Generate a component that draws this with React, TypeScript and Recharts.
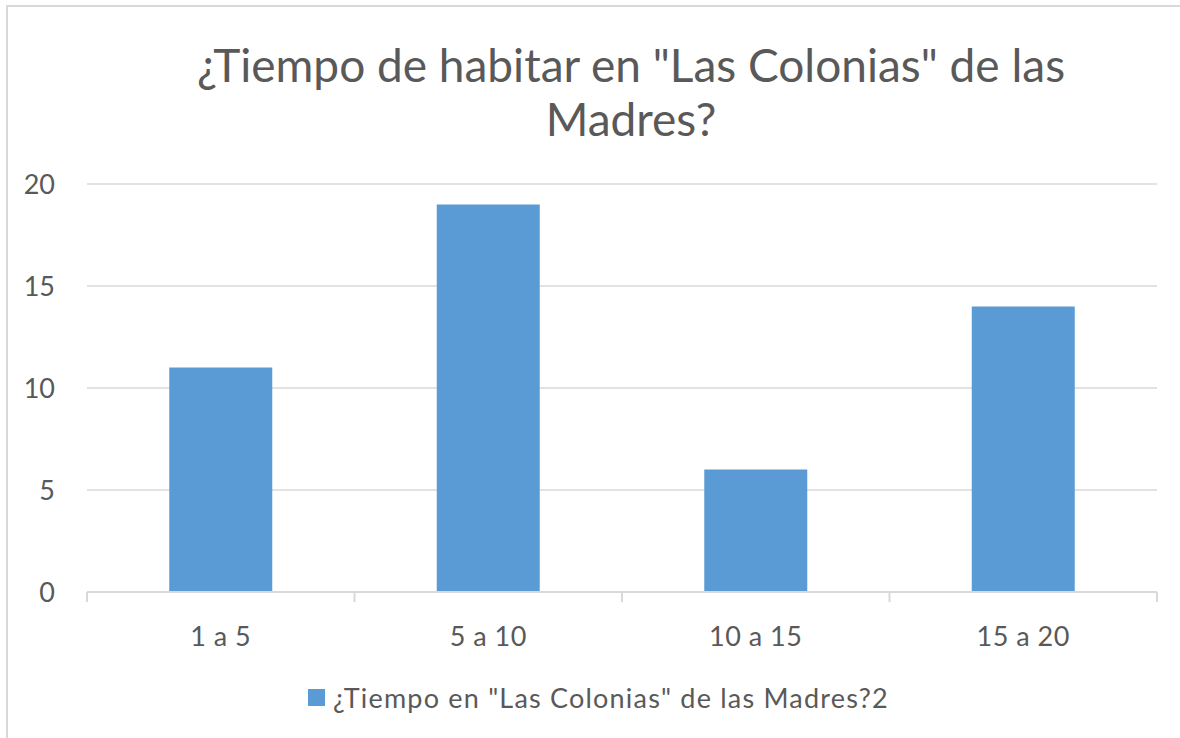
import { BarChart, Bar, XAxis, YAxis, CartesianGrid } from 'recharts';

// Data
const categories = ['1 a 5', '5 a 10', '10 a 15', '15 a 20'];
const seriesValues = [11, 19, 6, 14];
const yTicks = [0, 5, 10, 15, 20];

const seriesName = '¿Tiempo en "Las Colonias" de las Madres?2';
const titleLines = ['¿Tiempo de habitar en "Las Colonias" de las', 'Madres?'];

const data = categories.map((name, i) => ({ name, value: seriesValues[i] }));

const FONT = 'Lato, "Liberation Sans", sans-serif';
const TEXT = '#595959';
const GRID = '#d9d9d9';
const BAR = '#5b9bd5';

// Category label plus Excel-style tick marks on the band boundaries
const CategoryTick = ({ x, y, payload, index }: any) => {
  const half = payload.offset || 0;
  const axisY = y - 30;
  return (
    <g>
      {index === 0 && (
        <line x1={x - half} x2={x - half} y1={axisY} y2={axisY + 10} stroke={GRID} strokeWidth={2} />
      )}
      <line x1={x + half} x2={x + half} y1={axisY} y2={axisY + 10} stroke={GRID} strokeWidth={2} />
      <text
        x={x}
        y={y + 5}
        dy="0.71em"
        textAnchor="middle"
        fill={TEXT}
        fontSize={27}
        fontFamily={FONT}
        letterSpacing={0.5}
      >
        {payload.value}
      </text>
    </g>
  );
};

export default function App() {
  return (
    <div
      style={{
        position: 'fixed',
        left: 0,
        top: 0,
        width: 1180,
        height: 738,
        background: '#fff',
        fontFamily: FONT,
      }}
    >
      {/* chart frame, cropped on right and bottom */}
      <div
        style={{
          position: 'absolute',
          left: 6,
          top: 5,
          width: 1180,
          height: 740,
          borderLeft: `2px solid ${GRID}`,
          borderTop: `2px solid ${GRID}`,
        }}
      />
      <div
        style={{
          position: 'absolute',
          left: 0,
          width: 1262,
          top: 38,
          textAlign: 'center',
          color: TEXT,
          fontSize: 46,
          lineHeight: '54px',
        }}
      >
        {titleLines.map((t) => (
          <div key={t}>{t}</div>
        ))}
      </div>
      <div style={{ position: 'absolute', left: 0, top: 0 }}>
        <BarChart
          width={1180}
          height={738}
          data={data}
          margin={{ top: 184, right: 23, bottom: 86, left: 0 }}
          barCategoryGap="30.75%"
        >
          <CartesianGrid horizontal vertical={false} stroke={GRID} strokeWidth={1.5} />
          <XAxis
            dataKey="name"
            height={60}
            axisLine={{ stroke: GRID, strokeWidth: 2 }}
            tickLine={false}
            tickSize={0}
            tickMargin={30}
            interval={0}
            tick={<CategoryTick />}
          />
          <YAxis
            width={87}
            domain={[0, 20]}
            ticks={yTicks}
            axisLine={false}
            tickLine={false}
            tickMargin={26}
            tick={{ fill: TEXT, fontSize: 27, fontFamily: FONT }}
          />
          <Bar dataKey="value" fill={BAR} isAnimationActive={false} />
        </BarChart>
      </div>
      <div
        style={{
          position: 'absolute',
          left: 308,
          top: 680,
          display: 'flex',
          alignItems: 'center',
          color: TEXT,
          fontSize: 27,
          letterSpacing: 1.2,
          height: 34,
        }}
      >
        <span style={{ width: 17, height: 17, background: BAR, marginRight: 8 }} />
        <span>{seriesName}</span>
      </div>
    </div>
  );
}
